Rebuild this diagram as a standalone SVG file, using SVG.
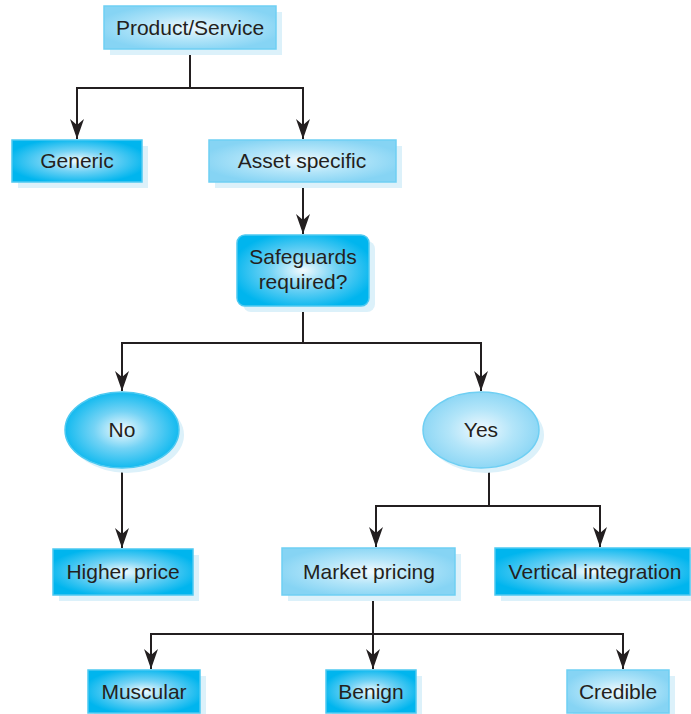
<svg xmlns="http://www.w3.org/2000/svg" width="691" height="714" viewBox="0 0 691 714">
<defs>
<radialGradient id="gDark" cx="0.5" cy="0.5" r="0.55">
<stop offset="0" stop-color="#f4fbfe"/>
<stop offset="0.45" stop-color="#74d3f5"/>
<stop offset="1" stop-color="#00b5ee"/>
</radialGradient>
<radialGradient id="gLight" cx="0.5" cy="0.5" r="0.55">
<stop offset="0" stop-color="#f0f9fe"/>
<stop offset="0.5" stop-color="#b3e5f9"/>
<stop offset="1" stop-color="#86d4f4"/>
</radialGradient>
<marker id="arr" viewBox="0 0 20 14" refX="20" refY="7" markerWidth="20" markerHeight="14" markerUnits="userSpaceOnUse" orient="auto">
<path d="M0,0 L6,7 L0,14 L20,7 Z" fill="#231f20"/>
</marker>
</defs>
<style>
.sh{fill:#dcf1fa}
.dk{fill:url(#gDark);stroke:#4ec9f1;stroke-width:1.5}
.lt{fill:url(#gLight);stroke:#6fcff3;stroke-width:1.5}
.t{font-family:"Liberation Sans",Arial,sans-serif;font-size:21px;fill:#231f20;text-anchor:middle}
.c{fill:none;stroke:#231f20;stroke-width:2}
</style>
<g id="connectors">
<path class="c" d="M190,49 V88 H77 V139" marker-end="url(#arr)"/>
<path class="c" d="M190,88 H303 V139" marker-end="url(#arr)"/>
<path class="c" d="M303,182 V234" marker-end="url(#arr)"/>
<path class="c" d="M303,306 V343 H122 V391" marker-end="url(#arr)"/>
<path class="c" d="M303,343 H481 V391" marker-end="url(#arr)"/>
<path class="c" d="M122,468 V548" marker-end="url(#arr)"/>
<path class="c" d="M489,466 V506 H376 V547" marker-end="url(#arr)"/>
<path class="c" d="M489,506 H600 V547" marker-end="url(#arr)"/>
<path class="c" d="M373,595 V634 H151 V669" marker-end="url(#arr)"/>
<path class="c" d="M373,634 V669" marker-end="url(#arr)"/>
<path class="c" d="M373,634 H623 V669" marker-end="url(#arr)"/>
</g>
<g id="product">
<rect class="sh" x="110" y="12" width="172" height="43"/>
<rect class="lt" x="104" y="6" width="172" height="43"/>
<text class="t" x="190" y="35">Product/Service</text>
</g>
<g id="generic">
<rect class="sh" x="18" y="146" width="130" height="42"/>
<rect class="dk" x="12" y="140" width="130" height="42"/>
<text class="t" x="77" y="168">Generic</text>
</g>
<g id="asset">
<rect class="sh" x="215" y="146" width="187" height="42"/>
<rect class="lt" x="209" y="140" width="187" height="42"/>
<text class="t" x="302" y="168">Asset specific</text>
</g>
<g id="safeguards">
<rect class="sh" x="243" y="241" width="132" height="71" rx="8"/>
<rect class="dk" x="237" y="235" width="132" height="71" rx="8"/>
<text class="t" x="303" y="264">Safeguards</text>
<text class="t" x="303" y="289">required?</text>
</g>
<g id="no">
<ellipse class="sh" cx="127" cy="435" rx="57" ry="38"/>
<ellipse class="dk" cx="122" cy="430" rx="57" ry="38"/>
<text class="t" x="122" y="437">No</text>
</g>
<g id="yes">
<ellipse class="sh" cx="486" cy="435" rx="58" ry="38"/>
<ellipse class="lt" cx="481" cy="430" rx="58" ry="38"/>
<text class="t" x="481" y="437">Yes</text>
</g>
<g id="higher">
<rect class="sh" x="59" y="555" width="140" height="46"/>
<rect class="dk" x="53" y="549" width="140" height="46"/>
<text class="t" x="123" y="579">Higher price</text>
</g>
<g id="market">
<rect class="sh" x="288" y="554" width="173" height="47"/>
<rect class="lt" x="282" y="548" width="173" height="47"/>
<text class="t" x="369" y="579">Market pricing</text>
</g>
<g id="vertical">
<rect class="sh" x="501" y="554" width="190" height="47"/>
<rect class="dk" x="495" y="548" width="195" height="47"/>
<text class="t" x="595" y="579">Vertical integration</text>
</g>
<g id="muscular">
<rect class="sh" x="94" y="676" width="112" height="43"/>
<rect class="dk" x="88" y="670" width="112" height="43"/>
<text class="t" x="144" y="699">Muscular</text>
</g>
<g id="benign">
<rect class="sh" x="332" y="676" width="90" height="43"/>
<rect class="dk" x="326" y="670" width="90" height="43"/>
<text class="t" x="371" y="699">Benign</text>
</g>
<g id="credible">
<rect class="sh" x="573" y="676" width="102" height="43"/>
<rect class="lt" x="567" y="670" width="102" height="43"/>
<text class="t" x="618" y="699">Credible</text>
</g>
</svg>
